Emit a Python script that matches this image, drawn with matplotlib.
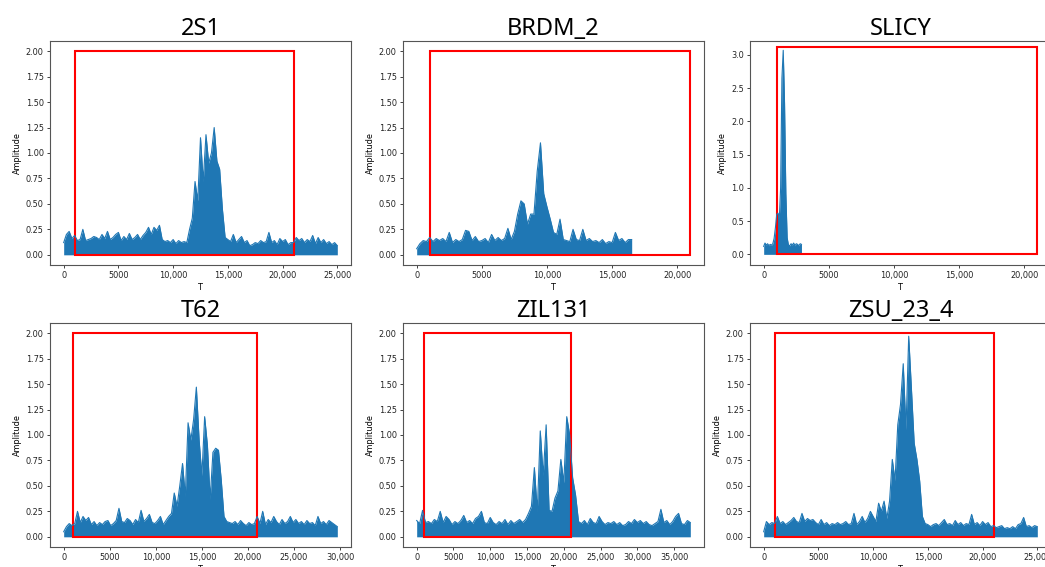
import numpy as np
import matplotlib
matplotlib.use("Agg")
import matplotlib.pyplot as plt
from matplotlib.patches import Rectangle
from matplotlib.ticker import MultipleLocator, FuncFormatter

OUT_PATH = "out.png"
LINE_COLOR = "#1f77b4"

# amplitude envelope, one value every STEP samples
TITLES = ["2S1", "BRDM_2", "SLICY", "T62", "ZIL131", "ZSU_23_4"]
STEPS = [250, 250, 100, 300, 400, 250]

amp_2s1 = [
    0.12, 0.20, 0.23, 0.16, 0.19, 0.14, 0.15, 0.25, 0.14, 0.15,
    0.16, 0.18, 0.17, 0.15, 0.20, 0.16, 0.23, 0.15, 0.17, 0.20,
    0.22, 0.14, 0.18, 0.15, 0.21, 0.15, 0.17, 0.20, 0.15, 0.19,
    0.22, 0.27, 0.20, 0.27, 0.24, 0.29, 0.15, 0.13, 0.14, 0.12,
    0.15, 0.11, 0.14, 0.12, 0.13, 0.12, 0.25, 0.36, 0.72, 0.53,
    1.15, 0.72, 1.18, 0.90, 1.00, 1.25, 0.92, 0.84, 0.45, 0.17,
    0.15, 0.13, 0.20, 0.12, 0.15, 0.18, 0.12, 0.14, 0.09, 0.10,
    0.12, 0.11, 0.14, 0.12, 0.13, 0.22, 0.12, 0.14, 0.10, 0.16,
    0.13, 0.15, 0.10, 0.12, 0.12, 0.17, 0.14, 0.16, 0.12, 0.15,
    0.13, 0.19, 0.11, 0.17, 0.12, 0.15, 0.11, 0.13, 0.10, 0.12,
    0.09,
]

amp_brdm2 = [
    0.06, 0.11, 0.14, 0.13, 0.17, 0.13, 0.16, 0.14, 0.16, 0.13,
    0.22, 0.12, 0.15, 0.13, 0.15, 0.24, 0.23, 0.14, 0.18, 0.13,
    0.14, 0.16, 0.12, 0.20, 0.14, 0.17, 0.14, 0.16, 0.26, 0.15,
    0.23, 0.40, 0.53, 0.50, 0.30, 0.40, 0.40, 0.82, 1.10, 0.60,
    0.47, 0.35, 0.22, 0.20, 0.35, 0.15, 0.14, 0.13, 0.25, 0.15,
    0.14, 0.25, 0.14, 0.16, 0.13, 0.14, 0.12, 0.15, 0.11, 0.13,
    0.12, 0.22, 0.14, 0.16, 0.12, 0.15, 0.15,
]

amp_slicy = [
    0.12, 0.17, 0.14, 0.16, 0.13, 0.15, 0.14, 0.16, 0.24, 0.40,
    0.60, 0.62, 0.55, 1.00, 2.65, 3.07, 2.28, 0.92, 0.25, 0.14,
    0.13, 0.16, 0.14, 0.17, 0.13, 0.16, 0.15, 0.13, 0.16, 0.15,
]

amp_t62 = [
    0.05, 0.10, 0.13, 0.11, 0.13, 0.25, 0.14, 0.20, 0.16, 0.19,
    0.12, 0.15, 0.11, 0.14, 0.12, 0.15, 0.16, 0.11, 0.13, 0.16,
    0.28, 0.15, 0.14, 0.18, 0.16, 0.12, 0.17, 0.14, 0.26, 0.15,
    0.18, 0.22, 0.14, 0.13, 0.16, 0.20, 0.12, 0.16, 0.20, 0.23,
    0.43, 0.30, 0.50, 0.72, 0.40, 1.12, 0.95, 1.15, 1.47, 0.95,
    0.60, 1.18, 0.90, 0.37, 0.83, 0.87, 0.85, 0.56, 0.20, 0.15,
    0.14, 0.13, 0.15, 0.12, 0.16, 0.13, 0.11, 0.14, 0.12, 0.13,
    0.20, 0.13, 0.25, 0.12, 0.17, 0.14, 0.20, 0.15, 0.12, 0.17,
    0.13, 0.15, 0.20, 0.14, 0.17, 0.13, 0.15, 0.12, 0.16, 0.13,
    0.14, 0.11, 0.20, 0.13, 0.15, 0.12, 0.16, 0.14, 0.12, 0.10,
]

amp_zil131 = [
    0.16, 0.13, 0.26, 0.14, 0.15, 0.13, 0.17, 0.15, 0.25, 0.14,
    0.20, 0.17, 0.12, 0.15, 0.13, 0.16, 0.21, 0.14, 0.16, 0.13,
    0.18, 0.20, 0.25, 0.14, 0.13, 0.19, 0.14, 0.12, 0.15, 0.13,
    0.17, 0.12, 0.16, 0.13, 0.15, 0.17, 0.14, 0.17, 0.23, 0.30,
    0.68, 0.25, 1.04, 0.60, 1.10, 0.26, 0.25, 0.38, 0.45, 0.76,
    0.53, 1.18, 1.00, 0.58, 0.41, 0.15, 0.13, 0.16, 0.12, 0.18,
    0.14, 0.13, 0.20, 0.15, 0.12, 0.14, 0.13, 0.15, 0.12, 0.14,
    0.11, 0.12, 0.15, 0.13, 0.17, 0.14, 0.16, 0.13, 0.15, 0.12,
    0.11, 0.13, 0.15, 0.27, 0.14, 0.16, 0.12, 0.15, 0.20, 0.23,
    0.13, 0.12, 0.16, 0.14,
]

amp_zsu234 = [
    0.05, 0.15, 0.12, 0.14, 0.13, 0.20, 0.13, 0.15, 0.12, 0.14,
    0.16, 0.19, 0.15, 0.14, 0.23, 0.15, 0.18, 0.16, 0.17, 0.14,
    0.12, 0.17, 0.12, 0.14, 0.11, 0.13, 0.12, 0.14, 0.12, 0.13,
    0.15, 0.12, 0.13, 0.23, 0.12, 0.15, 0.20, 0.14, 0.18, 0.25,
    0.20, 0.15, 0.33, 0.25, 0.35, 0.18, 0.35, 0.76, 0.55, 1.10,
    1.30, 1.70, 1.05, 1.97, 1.45, 0.92, 0.76, 0.55, 0.20, 0.13,
    0.12, 0.10, 0.12, 0.13, 0.11, 0.14, 0.17, 0.12, 0.13, 0.11,
    0.16, 0.12, 0.14, 0.11, 0.13, 0.12, 0.22, 0.12, 0.14, 0.11,
    0.15, 0.12, 0.14, 0.10, 0.11, 0.09, 0.10, 0.11, 0.08, 0.09,
    0.08, 0.10, 0.08, 0.12, 0.13, 0.19, 0.10, 0.11, 0.09, 0.11,
    0.10,
]

AMPS = [amp_2s1, amp_brdm2, amp_slicy, amp_t62, amp_zil131, amp_zsu234]

# red window drawn on every panel
BOX_START = 1000
BOX_WIDTH = 20000
BOX_HEIGHTS = [2.0, 2.0, 3.12, 2.0, 2.0, 2.0]

# axes rectangles in figure pixels (left, top), the right column runs off the edge
FIG_W, FIG_H = 1045, 567
AX_W, AX_H = 301, 224
AX_POS = [(50, 41), (403, 41), (750, 41), (50, 323), (403, 323), (750, 323)]


def fmt_t(x, _):
    if abs(x) >= 10000:
        return f"{x:,.0f}"
    return f"{x:.0f}"


def draw_panel(ax, title, amp, step, box_h):
    t = np.arange(len(amp)) * step
    ax.fill_between(t, 0, amp, color=LINE_COLOR, lw=0)
    ax.plot(t, amp, color=LINE_COLOR, lw=0.8)
    ax.add_patch(Rectangle((BOX_START, 0), BOX_WIDTH, box_h,
                           fill=False, edgecolor="red", lw=1.5))
    ax.autoscale_view()

    if box_h > 2.5:
        ax.set_ylim(-0.16, 3.21)
        ax.yaxis.set_major_locator(MultipleLocator(0.5))
        ax.yaxis.set_major_formatter(FuncFormatter(lambda v, _: f"{v:.1f}"))
    else:
        ax.set_ylim(-0.1, 2.1)
        ax.yaxis.set_major_locator(MultipleLocator(0.25))
        ax.yaxis.set_major_formatter(FuncFormatter(lambda v, _: f"{v:.2f}"))

    ax.xaxis.set_major_locator(MultipleLocator(5000))
    ax.xaxis.set_major_formatter(FuncFormatter(fmt_t))

    ax.set_title(title, fontsize=17, family="Noto Sans", pad=3.3)
    ax.set_xlabel("T", fontsize=5.9, labelpad=2)
    ax.set_ylabel("Amplitude", fontsize=5.9, labelpad=3)
    ax.tick_params(labelsize=5.9, length=2.5, width=0.6, pad=2,
                   colors="#222222")
    for sp in ax.spines.values():
        sp.set_color("#555555")
        sp.set_linewidth(0.8)


def main():
    fig = plt.figure(figsize=(FIG_W / 100, FIG_H / 100), dpi=100)
    for i, title in enumerate(TITLES):
        left, top = AX_POS[i]
        ax = fig.add_axes([left / FIG_W, 1 - (top + AX_H) / FIG_H,
                           AX_W / FIG_W, AX_H / FIG_H])
        draw_panel(ax, title, AMPS[i], STEPS[i], BOX_HEIGHTS[i])
    fig.savefig(OUT_PATH, dpi=100)


if __name__ == "__main__":
    main()
